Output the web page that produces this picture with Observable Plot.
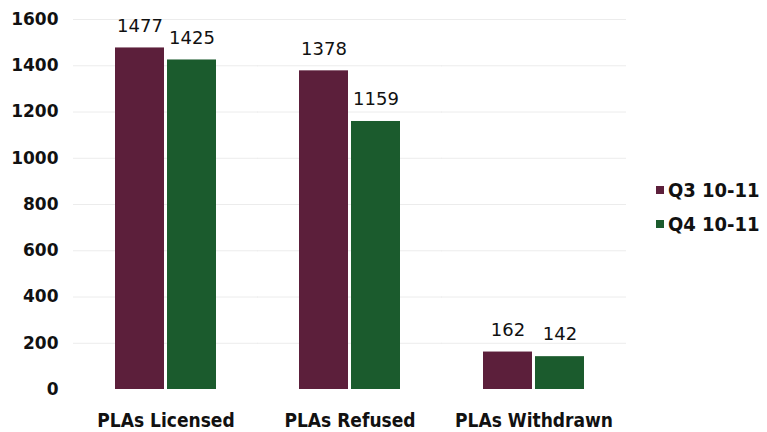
<!DOCTYPE html>
<html><head><meta charset="utf-8">
<script src="https://cdn.jsdelivr.net/npm/d3@7"></script>
<script src="https://cdn.jsdelivr.net/npm/@observablehq/plot@0.6"></script>
<style>
body{margin:0;background:#fff;font-family:"DejaVu Sans",sans-serif;}
#wrap{position:relative;width:767px;height:432px;}
#legend{position:absolute;left:656px;top:173px;font-size:20px;font-family:"DejaVu Sans Condensed","DejaVu Sans",sans-serif;font-weight:bold;color:#111;white-space:nowrap;}
#legend div{display:flex;align-items:center;height:34px;}
#legend span.sw{display:inline-block;width:8px;height:8px;margin-right:4px;}
</style></head><body>
<div id="wrap"><div id="chart"></div><div id="legend"></div></div>
<script>
const categories = ["PLAs Licensed", "PLAs Refused", "PLAs Withdrawn"];
const seriesNames = ["Q3 10-11", "Q4 10-11"];
const q3Values = [1477, 1378, 162];
const q4Values = [1425, 1159, 142];
const yTicks = [0, 200, 400, 600, 800, 1000, 1200, 1400, 1600];
const colors = ["#5c1f3b", "#1b5b2d"];

const data = [];
categories.forEach((c, i) => {
  data.push({cat: c, series: seriesNames[0], value: q3Values[i]});
  data.push({cat: c, series: seriesNames[1], value: q4Values[i]});
});

const chart = Plot.plot({
  width: 767, height: 432,
  marginLeft: 74, marginRight: 141, marginTop: 19, marginBottom: 43,
  style: {fontFamily: "DejaVu Sans, sans-serif", background: "#fff", overflow: "visible"},
  fx: {domain: categories, paddingInner: 0.44, paddingOuter: 0.22, label: null},
  x: {domain: seriesNames, paddingInner: 0.05, paddingOuter: 0, axis: null},
  y: {domain: [0, 1600], ticks: yTicks, label: null},
  color: {domain: seriesNames, range: colors},
  marks: [
    Plot.ruleY(yTicks.filter(d => d > 0), {stroke: "#ececec", strokeWidth: 1, insetLeft: -41, insetRight: -41}),
    Plot.axisY({ticks: yTicks, tickFormat: d => String(d), tickSize: 0, tickPadding: 56, fontSize: 17, fontWeight: "bold", fill: "#111", label: null}),
    Plot.axisFx({anchor: "bottom", tickSize: 0, tickPadding: 24, fontSize: 19, fontWeight: "bold", fontFamily: "DejaVu Sans Condensed, DejaVu Sans, sans-serif", fill: "#111", label: null}),
    Plot.barY(data, {fx: "cat", x: "series", y: "value", fill: "series"}),
    Plot.text(data, {fx: "cat", x: "series", y: "value", text: d => String(d.value), dy: -22, fontSize: 18, fill: "#111"})
  ]
});
document.getElementById("chart").appendChild(chart);

const leg = document.getElementById("legend");
seriesNames.forEach((s, i) => {
  const row = document.createElement("div");
  row.innerHTML = `<span class="sw" style="background:${colors[i]}"></span><span>${s}</span>`;
  leg.appendChild(row);
});
</script>
</body></html>
